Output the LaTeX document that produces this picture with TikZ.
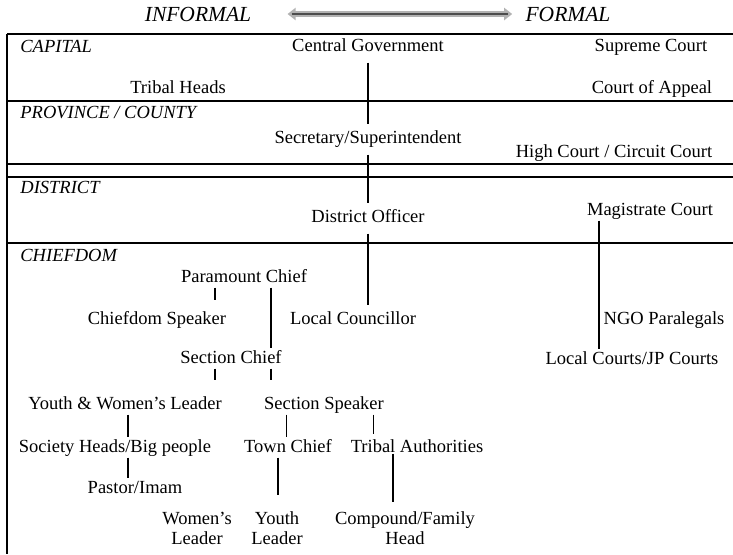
\documentclass[tikz,border=0pt]{standalone}
\usepackage{fontspec}
\setmainfont{Liberation Serif}
\usetikzlibrary{arrows.meta}

\begin{document}
\begin{tikzpicture}[
      x=0.5pt, y=-0.5pt,
      lbl/.style={font=\fontsize{9.25}{10}\selectfont, inner sep=0.6pt,
                  text height=7.4pt, text depth=1.5pt},
      twoline/.style={font=\fontsize{9.25}{10}\selectfont, inner sep=0.8pt, align=center},
      level/.style={font=\fontsize{9.25}{10}\selectfont\itshape, anchor=west, inner sep=0pt},
      scalelbl/.style={font=\fontsize{10.75}{12}\selectfont\itshape, inner sep=0pt},
      thinrule/.style={line width=0.55pt},
      thickrule/.style={line width=1.1pt},
      link/.style={line width=0.95pt},
      thinlink/.style={line width=0.5pt},
      trunk/.style={link, shorten <=3pt, shorten >=2pt}
    ]
    \useasboundingbox (0,0) rectangle (733,554);

    % informal -- formal scale
    \node[scalelbl] (informal) at (198,14) {INFORMAL};
    \node[scalelbl] (formal) at (568,14) {FORMAL};
    \draw[line width=2.6pt, gray!60, {Triangle[length=4pt,width=6pt]}-{Triangle[length=4pt,width=6pt]},
          shorten <=18pt, shorten >=6.5pt] (informal) -- (formal);
    \draw[line width=0.8pt, black!70, shorten <=20pt, shorten >=8.5pt] (informal) -- (formal);

    % frame and level rules
    \draw[thinrule] (7,34) -- (733,34);
    \draw[thinrule] (7,34) -- (7,170);
    \draw[thickrule] (7,164) -- (7,554);
    \draw[thinrule] (7,101) -- (733,101);
    \draw[thinrule] (7,164) -- (733,164);
    \draw[thickrule] (7,177) -- (733,177);
    \draw[thickrule] (7,243) -- (733,243);

    \node[level] (capital) at (20,46) {CAPITAL};
    \node[level] (province) at (20,113) {PROVINCE / COUNTY};
    \node[level] (district) at (20,187) {DISTRICT};
    \node[level] (chiefdom) at (20,255) {CHIEFDOM};

    % capital
    \node[lbl] (centgov) at (368,46) {Central Government};
    \node[lbl] (supreme) at (651,46) {Supreme Court};
    \node[lbl] (tribalheads) at (178,88) {Tribal Heads};
    \node[lbl] (appeal) at (652,88) {Court of Appeal};
    % province
    \node[lbl] (secretary) at (368,138) {Secretary/Superintendent};
    \node[lbl] (highcourt) at (614,152) {High Court / Circuit Court};
    % district
    \node[lbl] (distofficer) at (368,217) {District Officer};
    \node[lbl] (magistrate) at (650,210) {Magistrate Court};
    % chiefdom
    \node[lbl] (paramount) at (244,277) {Paramount Chief};
    \node[lbl] (cdspeaker) at (157,319) {Chiefdom Speaker};
    \node[lbl] (councillor) at (353,319) {Local Councillor};
    \node[lbl] (ngo) at (664,319) {NGO Paralegals};
    \node[lbl] (secchief) at (231,358) {Section Chief};
    \node[lbl] (localcourts) at (632,359) {Local Courts/JP Courts};
    \node[lbl] (ywleader) at (125,404) {Youth \& Women's Leader};
    \node[lbl] (secspeaker) at (324,404) {Section Speaker};
    \node[lbl] (society) at (115,447) {Society Heads/Big people};
    \node[lbl] (townchief) at (288,447) {Town Chief};
    \node[lbl] (tribalauth) at (417,447) {Tribal Authorities};
    \node[lbl] (pastor) at (135,488) {Pastor/Imam};
    \node[twoline] (wleader) at (197,528) {Women's\\Leader};
    \node[twoline] (yleader) at (277,528) {Youth\\Leader};
    \node[twoline] (compound) at (405,528) {Compound/Family\\Head};

    % columns of the links
    \coordinate (colL) at (215,0);
    \coordinate (colR) at (271,0);
    \coordinate (colY) at (128,0);
    \coordinate (colT) at (286,0);
    \coordinate (colA) at (373,0);
    \coordinate (colU) at (278,0);
    \coordinate (colC) at (393,0);
    \coordinate (colM) at (599,0);

    \draw[trunk] (centgov) -- (secretary);
    \draw[trunk] (secretary) -- (distofficer);
    \draw[trunk] (distofficer) -- (distofficer |- councillor.north);
    \draw[link] (colM |- magistrate.south) -- (colM |- localcourts.north);

    \draw[link, shorten >=4.5pt] (colL |- paramount.south) -- (colL |- cdspeaker.north);
    \draw[link] (colR |- paramount.south) -- (colR |- secchief.north);
    \draw[link, shorten >=7pt] (colL |- secchief.south) -- (colL |- ywleader.north);
    \draw[link, shorten >=7pt] (colR |- secchief.south) -- (colR |- secspeaker.north);
    \draw[link] (colY |- ywleader.south) -- (colY |- society.north);
    \draw[thinlink] (colT |- secspeaker.south) -- (colT |- townchief.north);
    \draw[thinlink, shorten >=1.5pt] (colA |- secspeaker.south) -- (colA |- tribalauth.north);
    \draw[link] (colY |- society.south) -- (colY |- pastor.north);
    \draw[link, shorten >=7.5pt] (colU |- townchief.south) -- (colU |- yleader.north);
    \draw[link, shorten <=-2pt, shorten >=4pt] (colC |- tribalauth.south) -- (colC |- compound.north);
  \end{tikzpicture}
\end{document}
